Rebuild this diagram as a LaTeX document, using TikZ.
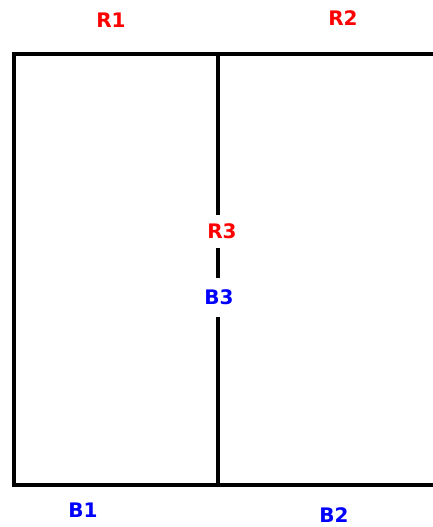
\documentclass[tikz,border=0pt]{standalone}
\usepackage{fontspec}
\setmainfont{DejaVu Sans}
\begin{document}
\begin{tikzpicture}[x=1pt,y=1pt,
  lbl/.style={font=\fontsize{20}{20}\selectfont\bfseries, inner sep=0pt},
  rlbl/.style={lbl, text=red},
  blbl/.style={lbl, text=blue},
  wall/.style={line width=4pt, black}]
\useasboundingbox (0,0) rectangle (433,527);
\coordinate (tr) at (433,473);
\coordinate (tl) at (14,473);
\coordinate (bl) at (14,42);
\coordinate (br) at (433,42);
\coordinate (vt) at (218,473);
\coordinate (vb) at (218,42);
\draw[wall] (tr) -- (tl) -- (bl) -- (br);
\node[rlbl] (r1) at (111,507) {R1};
\node[rlbl] (r2) at (343,509) {R2};
\node[rlbl, minimum height=33pt] (r3) at (222,295.5) {R3};
\node[blbl, minimum height=39pt] (b3) at (219,229.5) {B3};
\node[blbl] (b1) at (83,17) {B1};
\node[blbl] (b2) at (334,12) {B2};
\draw[wall] (vt) -- (vt |- r3.north);
\draw[wall] (vt |- r3.south) -- (vt |- b3.north);
\draw[wall] (vt |- b3.south) -- (vb);
\end{tikzpicture}
\end{document}
